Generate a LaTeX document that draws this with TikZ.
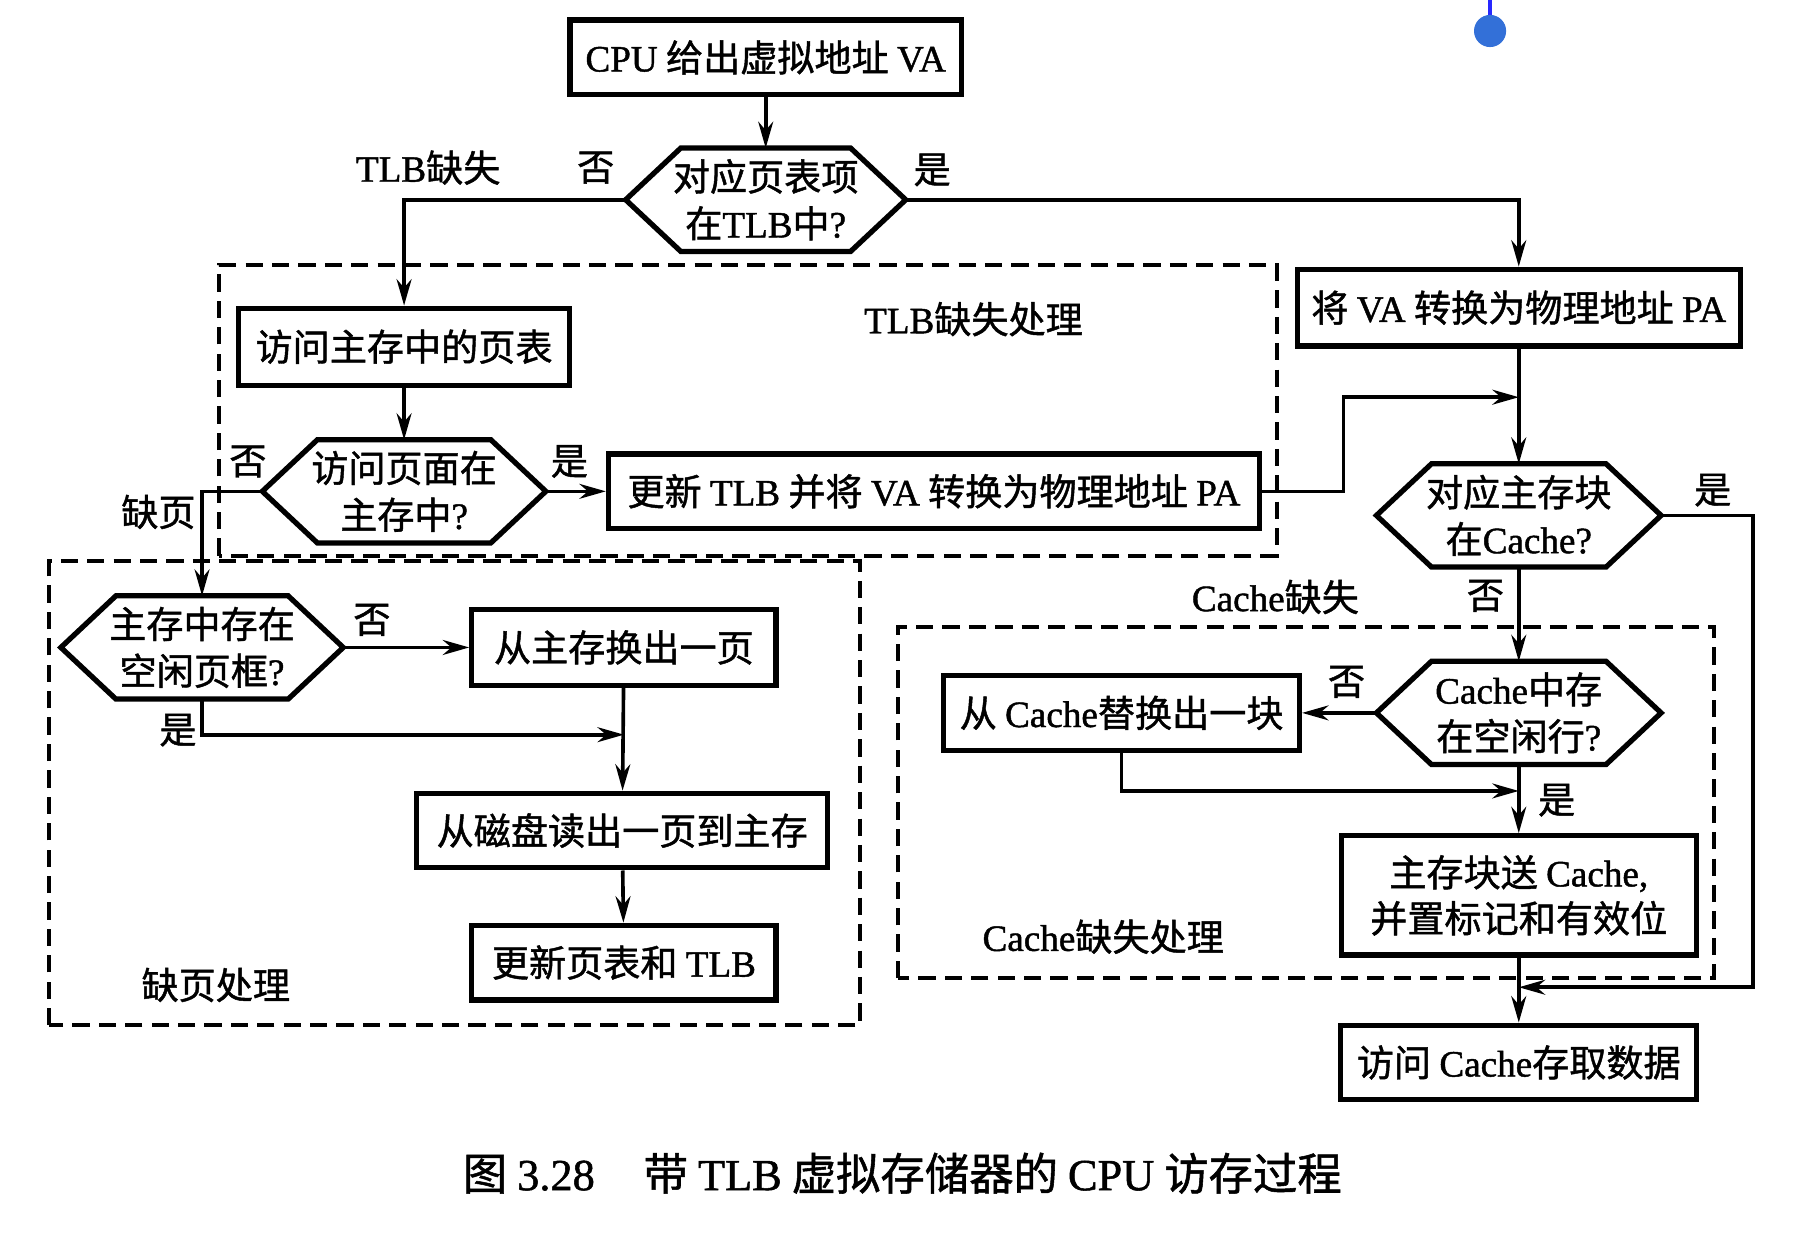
\documentclass[tikz,border=0pt]{standalone}
\usepackage{fontspec}
\setmainfont{Noto Sans CJK SC}[FakeBold=1.2]
\newfontfamily\latinfont{Liberation Serif}[FakeBold=1.2]
\newcommand{\en}[1]{{\latinfont #1}}
\usetikzlibrary{arrows.meta, positioning, calc}

\definecolor{cursorblue}{RGB}{51,112,216}
\definecolor{cursorline}{RGB}{40,40,255}

\begin{document}
\begin{tikzpicture}[
    box/.style={draw, line width=1.3pt, minimum height=0.65cm, inner sep=2pt,
                align=center, font=\fontsize{9.2}{11.4}\selectfont},
    hexa/.style={minimum width=2.46cm, minimum height=0.9cm, inner sep=0pt,
                 outer sep=0pt, align=center,
                 font=\fontsize{9.2}{11.6}\selectfont},
    zone/.style={draw, line width=1pt, dash pattern=on 1.5mm off 0.8mm},
    lbl/.style={font=\fontsize{9.2}{11}\selectfont, inner sep=0pt},
    flow/.style={->, line width=0.9pt},
    >={Stealth[length=2.3mm, width=1.3mm]}
  ]
  \useasboundingbox (0,0) rectangle (15.68,10.87);

  % dashed regions
  \draw[zone] (1.91,6.03) rectangle (11.12,8.56);
  \draw[zone] (0.43,1.94) rectangle (7.49,5.98);
  \draw[zone] (7.82,2.35) rectangle (14.93,5.41);

  % main path
  \node[box, minimum width=3.41cm] (cpu) at (6.67,10.37) {\en{CPU} 给出虚拟地址 \en{VA}};
  \node[hexa, minimum width=2.44cm] (intlb) at (6.67,9.13) {对应页表项\\在\en{TLB}中\en{?}};
  \node[box, minimum width=3.86cm, minimum height=0.67cm] (topa) at (13.23,8.19) {将 \en{VA} 转换为物理地址 \en{PA}};
  \node[hexa, minimum width=2.48cm] (incache) at (13.23,6.38) {对应主存块\\在\en{Cache?}};
  \node[box, minimum width=3.10cm] (access) at (13.23,1.615) {访问 \en{Cache}存取数据};

  % TLB miss
  \node[box, minimum width=2.88cm, minimum height=0.67cm] (pagetab) at (3.52,7.85) {访问主存中的页表};
  \node[hexa, minimum width=2.47cm] (inmem) at (3.52,6.59) {访问页面在\\主存中\en{?}};
  \node[box, minimum width=5.67cm] (updtlb) at (8.135,6.59) {更新 \en{TLB} 并将 \en{VA} 转换为物理地址 \en{PA}};

  % page fault
  \node[hexa] (freeframe) at (1.76,5.23) {主存中存在\\空闲页框\en{?}};
  \node[box, minimum width=2.65cm, minimum height=0.66cm] (swapout) at (5.435,5.23) {从主存换出一页};
  \node[box, minimum width=3.58cm] (readdisk) at (5.42,3.635) {从磁盘读出一页到主存};
  \node[box, minimum width=2.65cm] (updpt) at (5.435,2.485) {更新页表和 \en{TLB}};

  % cache miss
  \node[hexa, minimum width=2.48cm] (freeline) at (13.23,4.66) {\en{Cache}中存\\在空闲行\en{?}};
  \node[box, minimum width=3.10cm] (replace) at (9.77,4.66) {从 \en{Cache}替换出一块};
  \node[box, minimum width=3.09cm, minimum height=1.04cm] (fill) at (13.23,3.07) {主存块送 \en{Cache,}\\并置标记和有效位};

  % hexagon outlines
  \foreach \h in {intlb, incache, inmem, freeframe, freeline}
    \draw[line width=1.3pt, line join=miter]
      ($(\h.north west)+(0.48,0)$) -- ($(\h.north east)+(-0.48,0)$) -- (\h.east)
      -- ($(\h.south east)+(-0.48,0)$) -- ($(\h.south west)+(0.48,0)$) -- (\h.west) -- cycle;

  % junctions
  \coordinate (jpa) at (13.23,7.41);
  \coordinate (jhit) at (13.23,2.27);
  \coordinate (jline) at (13.23,3.98);
  \coordinate (jframe) at (5.435,4.47);

  % connectors
  \draw[flow] (cpu) -- (intlb);
  \draw[flow] (intlb.west) -| (pagetab.north);
  \draw[flow] (intlb.east) -| (topa.north);
  \draw[flow] (pagetab) -- (inmem);
  \draw[flow] (inmem.east) -- (updtlb.west);
  \draw[flow] (inmem.west) -| (freeframe.north);
  \draw[flow] (updtlb.east) -- ++(0.71,0) |- (jpa);
  \draw[flow] (topa.south) -- (incache.north);
  \draw[flow] (incache.east) -- ++(0.80,0) |- (jhit);
  \draw[flow] (incache.south) -- (freeline.north);
  \draw[flow] (freeline.west) -- (replace.east);
  \draw[flow] (replace.south) |- (jline);
  \draw[flow] (freeline.south) -- (fill.north);
  \draw[flow] (fill.south) -- (access.north);
  \draw[flow] (freeframe.east) -- (swapout.west);
  \draw[flow] (freeframe.south) |- (jframe);
  \draw[flow] (swapout) -- (readdisk);
  \draw[flow] (readdisk) -- (updpt);

  % labels
  \node[lbl] (lmiss) at (3.73,9.41) {\en{TLB}缺失};
  \node[lbl] (lno1) at (5.19,9.41) {否};
  \node[lbl] (lyes1) at (8.12,9.39) {是};
  \node[lbl] (ltlbzone) at (8.48,8.09) {\en{TLB}缺失处理};
  \node[lbl] (lno2) at (2.16,6.85) {否};
  \node[lbl] (lfault) at (1.38,6.41) {缺页};
  \node[lbl] (lyes2) at (4.96,6.85) {是};
  \node[lbl] (lno3) at (3.24,5.47) {否};
  \node[lbl] (lyes3) at (1.55,4.51) {是};
  \node[lbl] (lfaultzone) at (1.88,2.29) {缺页处理};
  \node[lbl] (lyes4) at (14.92,6.60) {是};
  \node[lbl] (lcmiss) at (11.11,5.67) {\en{Cache}缺失};
  \node[lbl] (lno4) at (12.94,5.68) {否};
  \node[lbl] (lno5) at (11.73,4.93) {否};
  \node[lbl] (lyes5) at (13.56,3.90) {是};
  \node[lbl] (lcachezone) at (9.61,2.71) {\en{Cache}缺失处理};

  \node[font=\fontsize{11}{13}\selectfont] (caption) at (7.86,0.65)
    {图 \en{3.28}\hspace{1.1em}带 \en{TLB} 虚拟存储器的 \en{CPU} 访存过程};

  % blue marker
  \draw[cursorline, line width=1.2pt] (12.98,10.87) -- (12.98,10.70);
  \fill[cursorblue] (12.98,10.60) circle (0.14);
\end{tikzpicture}
\end{document}
